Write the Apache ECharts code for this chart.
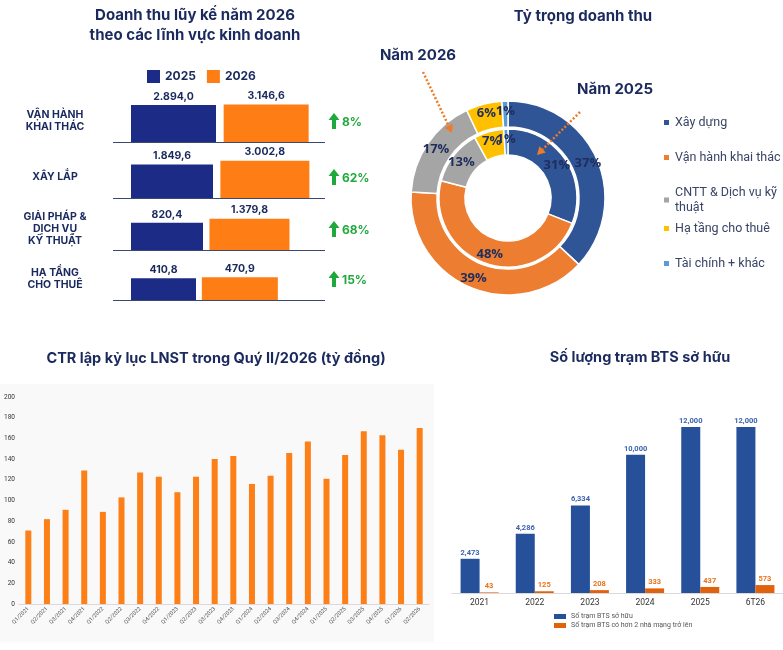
<!DOCTYPE html>
<html>
<head>
<meta charset="utf-8">
<script src="https://cdn.jsdelivr.net/npm/echarts@6/dist/echarts.min.js"></script>
<style>
  html, body { margin: 0; padding: 0; background: #fff; }
  #main { width: 783px; height: 650px; }
</style>
</head>
<body>
<div id="main"></div>
<script>
// --- doanh thu theo linh vuc
var sectors = ['VẬN HÀNH\nKHAI THÁC', 'XÂY LẮP', 'GIẢI PHÁP &\nDỊCH VỤ\nKỸ THUẬT', 'HẠ TẦNG\nCHO THUÊ'];
var rev2025 = [2894.0, 1849.6, 820.4, 410.8];
var rev2026 = [3146.6, 3002.8, 1379.8, 470.9];
var growth = ['8%', '62%', '68%', '15%'];

// --- ty trong doanh thu
var shareNames = ['Xây dựng', 'Vận hành khai thác', 'CNTT & Dịch vụ kỹ thuật', 'Hạ tầng cho thuê', 'Tài chính + khác'];
var share2026 = [37, 39, 17, 6, 1];
var share2025 = [31, 48, 13, 7, 1];

// --- LNST theo quy
var quarters = ['Q1/2021', 'Q2/2021', 'Q3/2021', 'Q4/2021', 'Q1/2022', 'Q2/2022', 'Q3/2022', 'Q4/2022',
  'Q1/2023', 'Q2/2023', 'Q3/2023', 'Q4/2023', 'Q1/2024', 'Q2/2024', 'Q3/2024', 'Q4/2024',
  'Q1/2025', 'Q2/2025', 'Q3/2025', 'Q4/2025', 'Q1/2026', 'Q2/2026'];
var profit = [71, 82, 91, 129, 89, 103, 127, 123, 108, 123, 140, 143, 116, 124, 146, 157, 121, 144, 167, 163, 149, 170];
var profitTicks = [0, 200, 20];

// --- tram BTS
var btsYears = ['2021', '2022', '2023', '2024', '2025', '6T26'];
var btsOwned = [2473, 4286, 6334, 10000, 12000, 12000];
var btsShared = [43, 125, 208, 333, 437, 573];

var NAVY = '#1b2a5e';
var BLUE1 = '#1c2b86';
var ORANGE1 = '#ff7d15';
var pieColors = ['#2f5597', '#ed7d31', '#a5a5a5', '#ffc000', '#5b9bd5'];

// layout of the first panel (baseline y of each row, bar widths)
var rowBase = [142, 198, 250, 300];
var barW = [[85, 85], [82, 89], [72, 80], [65, 76]];

function viNum(v) {
  var s = v.toFixed(1).split('.');
  return s[0].replace(/\B(?=(\d{3})+(?!\d))/g, '.') + ',' + s[1];
}
function enNum(v) {
  return String(v).replace(/\B(?=(\d{3})+(?!\d))/g, ',');
}

function dotArrow(x1, y1, x2, y2) {
  var dx = x2 - x1, dy = y2 - y1, len = Math.sqrt(dx * dx + dy * dy);
  var ux = dx / len, uy = dy / len, px = -uy, py = ux;
  var bx = x2 - ux * 8, by = y2 - uy * 8;
  return [
    { type: 'line', z: 100, shape: { x1: x1, y1: y1, x2: bx, y2: by },
      style: { stroke: '#f07a26', lineWidth: 2.5, lineDash: [2, 2] } },
    { type: 'polygon', z: 100, shape: { points: [[x2, y2], [bx + px * 4.5, by + py * 4.5], [bx - px * 4.5, by - py * 4.5]] },
      style: { fill: '#f07a26' } }
  ];
}

var chart = echarts.init(document.getElementById('main'));

var grids = [], xAxes = [], yAxes = [], series = [], graphics = [];

// titles
graphics.push(
  { type: 'text', x: 195, y: 25, style: { text: 'Doanh thu lũy kế năm 2026\ntheo các lĩnh vực kinh doanh',
    font: 'bold 15px Inter', fill: NAVY, align: 'center', verticalAlign: 'middle', lineHeight: 20 } },
  { type: 'text', x: 583, y: 16, style: { text: 'Tỷ trọng doanh thu',
    font: 'bold 15px Inter', fill: NAVY, align: 'center', verticalAlign: 'middle' } },
  { type: 'rect', z: -10, shape: { x: 0, y: 384, width: 434, height: 258 }, style: { fill: '#f9f9f9' } },
  { type: 'text', x: 216, y: 359, style: { text: 'CTR lập kỷ lục LNST trong Quý II/2026 (tỷ đồng)',
    font: 'bold 14.5px Inter', fill: NAVY, align: 'center', verticalAlign: 'middle' } },
  { type: 'text', x: 640, y: 358, style: { text: 'Số lượng trạm BTS sở hữu',
    font: 'bold 14.5px Inter', fill: NAVY, align: 'center', verticalAlign: 'middle' } },
  { type: 'text', x: 418, y: 55, style: { text: 'Năm 2026',
    font: 'bold 15px Inter', fill: NAVY, align: 'center', verticalAlign: 'middle' } },
  { type: 'text', x: 615, y: 89, style: { text: 'Năm 2025',
    font: 'bold 15px Inter', fill: NAVY, align: 'center', verticalAlign: 'middle' } }
);
graphics = graphics.concat(dotArrow(423, 72, 452, 133), dotArrow(580, 112, 537, 155));

// panel 1: one grid per business line
sectors.forEach(function (name, i) {
  var base = rowBase[i];
  grids.push({ left: 131, top: base - 40, height: 40, width: barW[i][0] * 1.09 + barW[i][1] });
  xAxes.push({ type: 'category', gridIndex: i, data: [name], show: false });
  yAxes.push({ type: 'log', gridIndex: i, logBase: 10, min: 25, max: 4300, show: false });
  var lbl = { show: true, position: 'top', distance: 3, color: NAVY, fontSize: 10.5, fontWeight: 'bold',
    fontFamily: 'Inter', formatter: function (p) { return viNum(p.value); } };
  series.push({ type: 'bar', name: '2025', xAxisIndex: i, yAxisIndex: i, data: [rev2025[i]],
    barWidth: barW[i][0], barGap: '9%', itemStyle: { color: BLUE1 }, label: lbl });
  series.push({ type: 'bar', name: '2026', xAxisIndex: i, yAxisIndex: i, data: [rev2026[i]],
    barWidth: barW[i][1], barGap: '9%', itemStyle: { color: ORANGE1 }, label: lbl });

  graphics.push(
    { type: 'line', shape: { x1: 113, y1: base + 0.5, x2: 325, y2: base + 0.5 }, style: { stroke: '#3d4870', lineWidth: 1 } },
    { type: 'text', x: 55, y: base - 21, style: { text: name, font: 'bold 10.5px Inter', fill: NAVY,
      align: 'center', verticalAlign: 'middle', lineHeight: 12 } }
  );
  var cy = base - 20;
  graphics.push(
    { type: 'polygon', shape: { points: [[334, cy - 9], [339.5, cy - 2], [336, cy - 2], [336, cy + 7],
      [332, cy + 7], [332, cy - 2], [328.5, cy - 2]] }, style: { fill: '#1fa83c' } },
    { type: 'text', x: 342, y: cy, style: { text: growth[i], font: 'bold 12px Inter', fill: '#1fa83c',
      align: 'left', verticalAlign: 'middle' } }
  );
});

// panel 3: LNST
grids.push({ left: 19, width: 410, top: 397, height: 207 });
xAxes.push({ type: 'category', gridIndex: 4, data: quarters,
  axisLine: { lineStyle: { color: '#d9d9d9' } }, axisTick: { show: false },
  axisLabel: { interval: 0, rotate: 45, fontSize: 5.5, color: '#595959', margin: 4, fontFamily: 'Roboto' } });
yAxes.push({ type: 'value', gridIndex: 4, min: profitTicks[0], max: profitTicks[1], interval: profitTicks[2],
  axisLine: { show: false }, axisTick: { show: false }, splitLine: { show: false },
  axisLabel: { fontSize: 6.5, color: '#333', margin: 4, fontFamily: 'Roboto' } });
series.push({ type: 'bar', name: 'LNST', xAxisIndex: 4, yAxisIndex: 4, data: profit, barWidth: 6,
  itemStyle: { color: '#fd7f17' } });

// panel 4: BTS
grids.push({ left: 452, width: 331, top: 427, height: 166 });
xAxes.push({ type: 'category', gridIndex: 5, data: btsYears,
  axisLine: { lineStyle: { color: '#d9d9d9' } }, axisTick: { show: false },
  axisLabel: { fontSize: 8.5, color: '#333', margin: 5, fontFamily: 'Roboto' } });
yAxes.push({ type: 'value', gridIndex: 5, min: 0, max: 12000, show: false });
series.push({ type: 'bar', name: 'Số trạm BTS sở hữu', xAxisIndex: 5, yAxisIndex: 5, data: btsOwned,
  barWidth: 19, barGap: '0%', itemStyle: { color: '#27509b' },
  label: { show: true, position: 'top', distance: 2, color: '#3d63ad', fontSize: 7.5, fontWeight: 'bold',
    fontFamily: 'Roboto', formatter: function (p) { return enNum(p.value); } } });
series.push({ type: 'bar', name: 'Số trạm BTS có hơn 2 nhà mạng trở lên', xAxisIndex: 5, yAxisIndex: 5,
  data: btsShared, barWidth: 19, barGap: '0%', itemStyle: { color: '#e0620d' },
  label: { show: true, position: 'top', distance: 2, color: '#e8731a', fontSize: 7.5, fontWeight: 'bold',
    fontFamily: 'Roboto' } });

// panel 2: nested donuts
function pieData(vals) {
  return vals.map(function (v, k) { return { name: shareNames[k], value: v, itemStyle: { color: pieColors[k] } }; });
}
var pieLabel = { show: true, position: 'inside', formatter: '{c}%', color: '#1f2d5c', fontSize: 13,
  fontWeight: 'bold', fontFamily: 'Open Sans' };
series.push({ type: 'pie', name: 'Năm 2026', center: [508, 198], radius: [71, 97], startAngle: 90,
  data: pieData(share2026), label: pieLabel, labelLine: { show: false }, avoidLabelOverlap: false,
  minShowLabelAngle: 0, labelLayout: { hideOverlap: false },
  itemStyle: { borderColor: '#fff', borderWidth: 1.5 } });
series.push({ type: 'pie', name: 'Năm 2025', center: [508, 198], radius: [43, 69], startAngle: 90,
  data: pieData(share2025), label: pieLabel, labelLine: { show: false }, avoidLabelOverlap: false,
  minShowLabelAngle: 0, labelLayout: { hideOverlap: false },
  itemStyle: { borderColor: '#fff', borderWidth: 1.5 } });

var pieLegendStyle = { fontSize: 12.5, color: '#3a4466', lineHeight: 15, fontFamily: 'Roboto' };
var option = {
  animation: false,
  backgroundColor: '#fff',
  grid: grids,
  xAxis: xAxes,
  yAxis: yAxes,
  series: series,
  graphic: graphics,
  legend: [
    { data: ['2025', '2026'], left: 142, top: 65, itemWidth: 13, itemHeight: 13, itemGap: 11, icon: 'rect',
      textStyle: { fontSize: 12, fontWeight: 'bold', color: NAVY, fontFamily: 'Inter' } },
    { data: shareNames.slice(0, 3), orient: 'vertical', left: 657, top: 110, itemWidth: 7, itemHeight: 7,
      itemGap: 20, icon: 'rect', textStyle: pieLegendStyle,
      formatter: function (n) { return n === 'CNTT & Dịch vụ kỹ thuật' ? 'CNTT & Dịch vụ kỹ\nthuật' : n; } },
    { data: shareNames.slice(3), orient: 'vertical', left: 657, top: 216, itemWidth: 7, itemHeight: 7,
      itemGap: 20, icon: 'rect', textStyle: pieLegendStyle },
    { data: ['Số trạm BTS sở hữu', 'Số trạm BTS có hơn 2 nhà mạng trở lên'], orient: 'vertical',
      left: 549, top: 608, itemWidth: 12, itemHeight: 5, itemGap: 2, icon: 'rect',
      textStyle: { fontSize: 7, color: '#555', fontFamily: 'Roboto' } }
  ]
};
chart.setOption(option);
</script>
</body>
</html>
